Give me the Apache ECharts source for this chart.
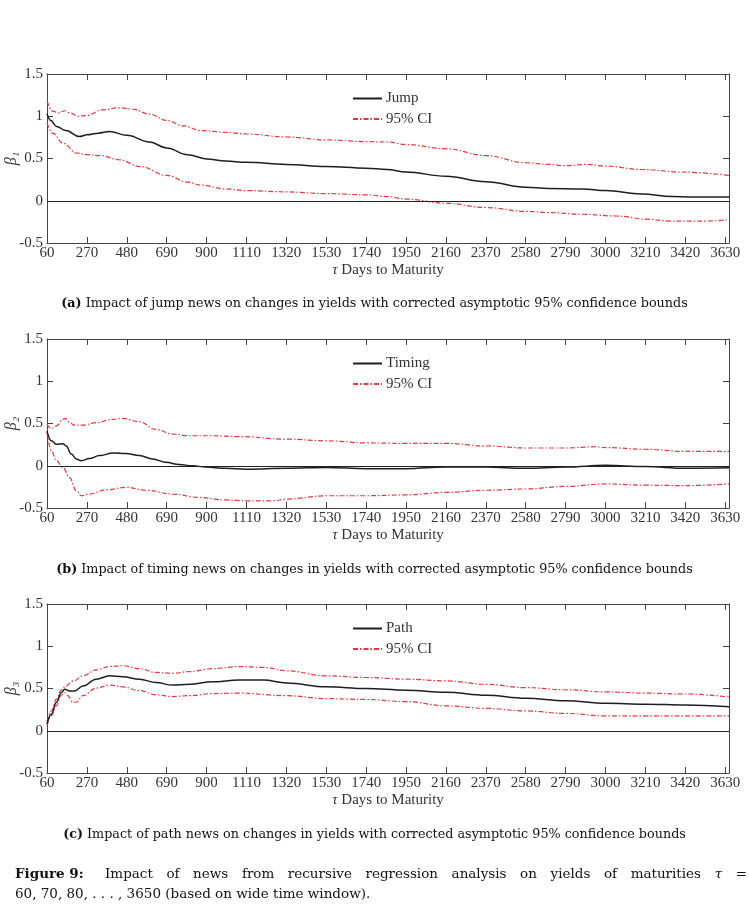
<!DOCTYPE html>
<html><head><meta charset="utf-8">
<script src="https://cdn.jsdelivr.net/npm/echarts@6/dist/echarts.min.js"></script>
<style>html,body{margin:0;padding:0;background:#fff}#c{width:749px;height:923px}</style>
</head><body><div id="c"></div>
<script>
// ---------- data ----------
const yTicks = [-0.5, 0, 0.5, 1, 1.5];
const xMin = 60, xMax = 3650, xStep = 210;

// Panel (a) Jump
const jumpTau = [60, 80, 110, 160, 230, 270, 330, 390, 480, 600, 690, 800, 900, 1000, 1110, 1320, 1530, 1740, 1850, 1950, 2160, 2370, 2580, 2700, 2880, 3000, 3190, 3350, 3460, 3650];
const jumpVal = [1.03, 0.95, 0.88, 0.83, 0.76, 0.78, 0.80, 0.82, 0.775, 0.695, 0.625, 0.545, 0.495, 0.47, 0.455, 0.43, 0.405, 0.385, 0.37, 0.34, 0.29, 0.225, 0.16, 0.145, 0.14, 0.12, 0.08, 0.05, 0.045, 0.045];
const jumpUpTau = [60, 90, 120, 155, 180, 225, 270, 350, 440, 510, 600, 690, 780, 870, 1000, 1110, 1320, 1530, 1740, 1850, 1950, 2160, 2370, 2580, 2700, 2790, 2900, 3000, 3190, 3400, 3650];
const jumpUp = [1.18, 1.06, 1.04, 1.065, 1.04, 1.0, 1.01, 1.075, 1.10, 1.085, 1.025, 0.95, 0.885, 0.83, 0.81, 0.79, 0.755, 0.72, 0.70, 0.695, 0.665, 0.615, 0.535, 0.45, 0.43, 0.415, 0.43, 0.41, 0.37, 0.34, 0.30];
const jumpLoTau = [60, 90, 145, 215, 270, 340, 440, 550, 690, 800, 870, 1000, 1110, 1320, 1530, 1740, 1850, 1950, 2160, 2370, 2580, 2700, 2880, 3050, 3230, 3330, 3530, 3650];
const jumpLo = [0.92, 0.80, 0.68, 0.565, 0.545, 0.535, 0.485, 0.405, 0.30, 0.22, 0.185, 0.14, 0.12, 0.105, 0.085, 0.07, 0.05, 0.02, -0.03, -0.08, -0.125, -0.14, -0.16, -0.18, -0.22, -0.24, -0.24, -0.225];

// Panel (b) Timing
const timingTau = [60, 83, 109, 144, 161, 188, 214, 240, 284, 336, 406, 476, 546, 616, 686, 756, 826, 896, 1000, 1110, 1320, 1530, 1740, 1950, 2160, 2370, 2580, 2790, 3000, 3210, 3420, 3650];
const timingVal = [0.41, 0.295, 0.255, 0.26, 0.235, 0.14, 0.08, 0.06, 0.085, 0.12, 0.15, 0.145, 0.12, 0.08, 0.04, 0.015, 0, -0.015, -0.03, -0.04, -0.03, -0.02, -0.035, -0.035, -0.015, -0.015, -0.03, -0.015, 0.005, -0.01, -0.03, -0.025];
const timingUpTau = [60, 83, 109, 144, 158, 179, 205, 249, 319, 406, 459, 546, 634, 721, 809, 931, 1071, 1320, 1530, 1740, 1950, 2160, 2370, 2580, 2790, 2950, 3000, 3210, 3420, 3650];
const timingUp = [0.49, 0.44, 0.47, 0.55, 0.56, 0.51, 0.48, 0.48, 0.51, 0.55, 0.56, 0.52, 0.43, 0.375, 0.355, 0.355, 0.345, 0.315, 0.295, 0.27, 0.265, 0.265, 0.235, 0.21, 0.21, 0.225, 0.215, 0.195, 0.17, 0.17];
const timingLoTau = [60, 83, 109, 144, 179, 214, 240, 284, 371, 476, 581, 721, 861, 1001, 1110, 1250, 1320, 1530, 1740, 1950, 2160, 2370, 2580, 2790, 3000, 3210, 3420, 3650];
const timingLo = [0.40, 0.18, 0.06, -0.02, -0.14, -0.295, -0.355, -0.335, -0.285, -0.255, -0.29, -0.335, -0.375, -0.405, -0.415, -0.415, -0.395, -0.355, -0.355, -0.345, -0.315, -0.29, -0.275, -0.245, -0.215, -0.23, -0.235, -0.215];

// Panel (c) Path
const pathTau = [60, 83, 109, 135, 153, 179, 205, 249, 319, 389, 459, 546, 634, 721, 809, 931, 1071, 1200, 1320, 1530, 1740, 1950, 2160, 2370, 2580, 2790, 3000, 3210, 3420, 3650];
const pathVal = [0.08, 0.195, 0.335, 0.45, 0.49, 0.47, 0.47, 0.53, 0.61, 0.65, 0.64, 0.61, 0.57, 0.54, 0.55, 0.58, 0.60, 0.60, 0.565, 0.52, 0.50, 0.48, 0.455, 0.42, 0.385, 0.355, 0.325, 0.315, 0.305, 0.285];
const pathUpTau = [60, 83, 109, 135, 158, 200, 249, 319, 389, 459, 546, 634, 721, 809, 931, 1071, 1200, 1320, 1530, 1740, 1950, 2160, 2370, 2580, 2790, 3000, 3210, 3420, 3650];
const pathUp = [0.11, 0.235, 0.375, 0.48, 0.53, 0.59, 0.65, 0.72, 0.76, 0.77, 0.735, 0.69, 0.68, 0.70, 0.735, 0.76, 0.75, 0.71, 0.65, 0.63, 0.61, 0.59, 0.55, 0.51, 0.485, 0.46, 0.445, 0.435, 0.40];
const pathLoTau = [60, 83, 109, 135, 153, 170, 195, 215, 249, 319, 389, 459, 546, 634, 721, 809, 931, 1071, 1320, 1530, 1740, 1950, 2160, 2370, 2580, 2790, 3000, 3210, 3420, 3650];
const pathLo = [0.06, 0.18, 0.295, 0.42, 0.45, 0.415, 0.335, 0.34, 0.415, 0.505, 0.54, 0.52, 0.475, 0.425, 0.405, 0.415, 0.44, 0.445, 0.415, 0.38, 0.37, 0.345, 0.295, 0.265, 0.235, 0.205, 0.175, 0.175, 0.175, 0.175];

const mainNames = ['Jump', 'Timing', 'Path'];
const ciName = '95% CI';
const yNames = ['β₁', 'β₂', 'β₃'];
const xName = 'Days to Maturity';
const captions = [
  ['(a)', ' Impact of jump news on changes in yields with corrected asymptotic 95% confidence bounds'],
  ['(b)', ' Impact of timing news on changes in yields with corrected asymptotic 95% confidence bounds'],
  ['(c)', ' Impact of path news on changes in yields with corrected asymptotic 95% confidence bounds']
];
const figLabel = 'Figure 9:';
const figLine1 = ['Impact', 'of', 'news', 'from', 'recursive', 'regression', 'analysis', 'on', 'yields', 'of', 'maturities', 'τ', '='];
const figLine2 = '60, 70, 80, . . . , 3650 (based on wide time window).';

// ---------- build ----------
const zip = (t, v) => t.map((x, i) => [x, v[i]]);
const panels = [
  [zip(jumpTau, jumpVal), zip(jumpUpTau, jumpUp), zip(jumpLoTau, jumpLo)],
  [zip(timingTau, timingVal), zip(timingUpTau, timingUp), zip(timingLoTau, timingLo)],
  [zip(pathTau, pathVal), zip(pathUpTau, pathUp), zip(pathLoTau, pathLo)]
];

const FONT = "'Liberation Serif', 'DejaVu Serif', serif";
const CAPFONT = "'DejaVu Serif', serif";
const AXC = '#444';
const TXT = '#333';
const RED = '#e3383d';
const gridTops = [74, 339, 604];
const gridH = 169, gridL = 47, gridW = 682;

const grid = [], xAxis = [], yAxis = [], series = [], legend = [], graphic = [];
const plain = v => String(v);

gridTops.forEach((top, i) => {
  grid.push({ left: gridL, top: top, width: gridW, height: gridH, containLabel: false, outerBoundsMode: 'none' });
  const tick = { show: true, inside: true, length: 6, lineStyle: { color: AXC, width: 1 } };
  const line = { show: true, onZero: false, lineStyle: { color: AXC, width: 1 } };
  xAxis.push({
    type: 'value', gridIndex: i, min: xMin, max: xMax, interval: xStep, position: 'bottom',
    axisLine: line, axisTick: tick, splitLine: { show: false },
    axisLabel: { show: true, showMaxLabel: false, margin: 3, color: TXT, fontFamily: FONT, fontSize: 15, formatter: plain },
    name: '{i|τ} ' + xName, nameLocation: 'middle', nameGap: 20, nameMoveOverlap: false,
    nameTextStyle: { color: TXT, fontFamily: FONT, fontSize: 15,
      rich: { i: { fontStyle: 'italic', fontFamily: FONT, fontSize: 15, color: TXT } } }
  });
  xAxis.push({
    type: 'value', gridIndex: i, min: xMin, max: xMax, interval: xStep, position: 'top',
    axisLine: line, axisTick: tick, splitLine: { show: false }, axisLabel: { show: false }
  });
  yAxis.push({
    type: 'value', gridIndex: i, min: yTicks[0], max: yTicks[yTicks.length - 1], interval: 0.5, position: 'left',
    axisLine: line, axisTick: tick, splitLine: { show: false },
    axisLabel: { show: true, margin: 4, color: TXT, fontFamily: FONT, fontSize: 15, formatter: plain },
    name: yNames[i], nameLocation: 'middle', nameGap: 27, nameRotate: 90, nameMoveOverlap: false,
    nameTextStyle: { color: TXT, fontFamily: FONT, fontSize: 16, fontStyle: 'italic' }
  });
  yAxis.push({
    type: 'value', gridIndex: i, min: yTicks[0], max: yTicks[yTicks.length - 1], interval: 0.5, position: 'right',
    axisLine: line, axisTick: tick, splitLine: { show: false }, axisLabel: { show: false }
  });

  const [m, up, lo] = panels[i];
  series.push({
    type: 'line', name: mainNames[i], xAxisIndex: 2 * i, yAxisIndex: 2 * i, data: m,
    symbol: 'none', smooth: 0.4, smoothMonotone: 'x',
    lineStyle: { color: '#1e1e1e', width: 1.5 }, itemStyle: { color: '#1e1e1e' },
    z: 3,
    markLine: { silent: true, symbol: 'none', label: { show: false }, animation: false,
      lineStyle: { color: '#222', width: 1, type: 'solid' }, data: [{ yAxis: 0 }] }
  });
  [up, lo].forEach(d => series.push({
    type: 'line', name: ciName, xAxisIndex: 2 * i, yAxisIndex: 2 * i, data: d,
    symbol: 'none', smooth: 0.4, smoothMonotone: 'x',
    lineStyle: { color: RED, width: 1.2, type: [5, 2, 1.5, 2] }, itemStyle: { color: RED }, z: 2
  }));

  legend.push({
    orient: 'vertical', left: 347, top: top + 12, itemWidth: 29, itemHeight: 14, itemGap: 5.5,
    data: [mainNames[i], ciName], selectedMode: false,
    itemStyle: { opacity: 0, color: 'transparent', borderWidth: 0 },
    textStyle: { color: TXT, fontFamily: FONT, fontSize: 15, padding: [0, 0, 0, -1] }
  });
});

// captions
const capY = [305, 571, 836];
const capSizeA = 12.75;
captions.forEach((c, i) => {
  graphic.push({
    type: 'text', left: 'center', top: capY[i] - 8, silent: true,
    style: { text: '{b|' + c[0] + '}{r|' + c[1] + '}', fill: '#111',
      rich: { b: { fontFamily: CAPFONT, fontSize: capSizeA, fontWeight: 'bold', fill: '#111' },
              r: { fontFamily: CAPFONT, fontSize: capSizeA, fill: '#111' } } }
  });
});

// figure caption (justified first line)
const ctx = document.createElement('canvas').getContext('2d');
const capSize = 13.5;
ctx.font = capSize + "px 'DejaVu Serif'";
const widths = figLine1.map(w => ctx.measureText(w).width);
const startX = 105, endX = 747;
const gap = (endX - startX - widths.reduce((a, b) => a + b, 0)) / (figLine1.length - 1);
graphic.push({ type: 'text', x: 15, y: 874, silent: true,
  style: { text: figLabel, fontFamily: CAPFONT, fontSize: capSize, fontWeight: 'bold', fill: '#111', verticalAlign: 'middle' } });
let cx = startX;
figLine1.forEach((w, k) => {
  graphic.push({ type: 'text', x: cx, y: 874, silent: true,
    style: { text: w, fontFamily: CAPFONT, fontSize: capSize, fill: '#111', verticalAlign: 'middle',
      fontStyle: w === 'τ' ? 'italic' : 'normal' } });
  cx += widths[k] + gap;
});
graphic.push({ type: 'text', x: 15, y: 894, silent: true,
  style: { text: figLine2, fontFamily: CAPFONT, fontSize: capSize, fill: '#111', verticalAlign: 'middle' } });

const chart = echarts.init(document.getElementById('c'), null, { renderer: 'canvas' });
chart.setOption({
  animation: false, backgroundColor: '#fff',
  grid, xAxis, yAxis, series, legend, graphic
});
</script>
</body></html>
